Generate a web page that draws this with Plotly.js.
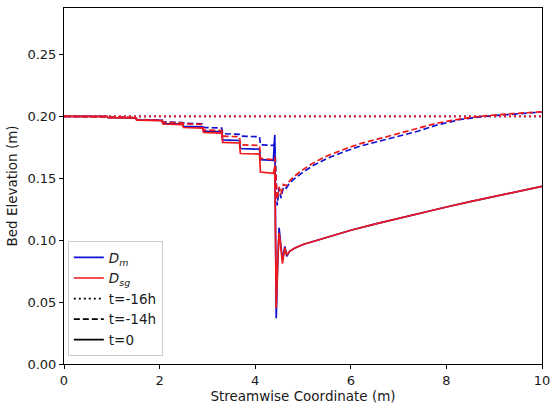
<!DOCTYPE html>
<html>
<head>
<meta charset="utf-8">
<script src="https://cdn.plot.ly/plotly-3.0.1.min.js"></script>
<style>html,body{margin:0;padding:0;background:#fff;}#plot{width:550px;height:410px;}</style>
</head>
<body>
<div id="plot"></div>
<script>
// t = 0 (solid)
const xT0 = [0, 0.9, 0.92, 1.5, 1.52, 2.05, 2.07, 2.48, 2.5, 2.9, 2.92, 3.3, 3.32, 3.67, 3.69, 4.09, 4.11, 4.38, 4.41, 4.44, 4.47, 4.5, 4.53, 4.57, 4.62, 4.66, 4.72, 4.82, 5.0, 5.5, 6.0, 6.5, 7.0, 7.5, 8.0, 8.5, 9.0, 9.5, 10.0];
const dmT0 = [0.200, 0.200, 0.199, 0.1988, 0.1972, 0.1968, 0.1942, 0.1938, 0.192, 0.1915, 0.188, 0.1875, 0.181, 0.1805, 0.174, 0.1735, 0.165, 0.1645, 0.185, 0.037, 0.080, 0.110, 0.098, 0.084, 0.095, 0.087, 0.091, 0.0935, 0.0965, 0.1025, 0.1080, 0.1130, 0.1178, 0.1224, 0.1268, 0.1311, 0.1353, 0.1394, 0.1435];
const dsgT0 = [0.200, 0.200, 0.199, 0.1988, 0.1970, 0.1965, 0.1938, 0.1933, 0.191, 0.1905, 0.187, 0.1865, 0.179, 0.1785, 0.170, 0.1695, 0.155, 0.154, 0.160, 0.045, 0.082, 0.106, 0.097, 0.081, 0.094, 0.088, 0.091, 0.0935, 0.0965, 0.1025, 0.1080, 0.1130, 0.1178, 0.1224, 0.1268, 0.1311, 0.1353, 0.1394, 0.1435];
// t = -14h (dashed)
const xT14 = [0, 0.9, 0.92, 1.5, 1.52, 2.05, 2.07, 2.48, 2.5, 2.9, 2.92, 3.3, 3.32, 3.67, 3.69, 4.09, 4.11, 4.38, 4.41, 4.46, 4.5, 4.54, 4.59, 4.65, 4.72, 4.8, 5.0, 5.2, 5.5, 5.9, 6.2, 6.6, 7.0, 7.4, 7.8, 8.3, 8.8, 9.4, 10.0];
const dmT14 = [0.200, 0.200, 0.1995, 0.199, 0.1975, 0.197, 0.1955, 0.195, 0.1945, 0.194, 0.191, 0.1905, 0.186, 0.1855, 0.184, 0.1835, 0.177, 0.1765, 0.178, 0.128, 0.142, 0.134, 0.143, 0.142, 0.146, 0.149, 0.155, 0.160, 0.166, 0.172, 0.176, 0.180, 0.184, 0.188, 0.193, 0.1975, 0.2, 0.202, 0.2035];
const dsgT14 = [0.200, 0.200, 0.1995, 0.199, 0.1973, 0.1968, 0.1952, 0.1947, 0.194, 0.1935, 0.189, 0.1885, 0.184, 0.1835, 0.177, 0.1765, 0.166, 0.165, 0.167, 0.133, 0.143, 0.137, 0.145, 0.144, 0.148, 0.151, 0.157, 0.162, 0.168, 0.174, 0.178, 0.182, 0.186, 0.190, 0.1945, 0.198, 0.2005, 0.2022, 0.2037];
// t = -16h (dotted)
const xT16 = [0, 10];
const dmT16 = [0.2, 0.2];
const dsgT16 = [0.2, 0.2];

const legendNames = ['<i>D<sub>m</sub></i>', '<i>D<sub>sg</sub></i>', 't=-16h', 't=-14h', 't=0'];

const BLUE = '#1010d0';
const RED = '#f01818';
const LW = 1.7;
const DOT = '2px,3px';
const DASH = '6px,3px';

function line(x, y, color, dash) {
  return {x: x, y: y, type: 'scatter', mode: 'lines', showlegend: false, hoverinfo: 'skip',
          line: {color: color, width: LW, dash: dash}};
}
function leg(name, color, dash) {
  return {x: [null], y: [null], type: 'scatter', mode: 'lines', name: name, showlegend: true,
          line: {color: color, width: LW, dash: dash}};
}

const data = [
  line(xT16, dmT16, BLUE, DOT),
  line(xT14, dmT14, BLUE, DASH),
  line(xT0, dmT0, BLUE, 'solid'),
  line(xT16, dsgT16, RED, DOT),
  line(xT14, dsgT14, RED, DASH),
  line(xT0, dsgT0, RED, 'solid'),
  leg(legendNames[0], BLUE, 'solid'),
  leg(legendNames[1], RED, 'solid'),
  leg(legendNames[2], '#000', DOT),
  leg(legendNames[3], '#000', DASH),
  leg(legendNames[4], '#000', 'solid')
];

const TXT = '#1a1a1a';
const axisCommon = {
  showgrid: false, zeroline: false, showline: true, linecolor: '#000', linewidth: 1,
  mirror: true, ticks: 'outside', ticklen: 4, tickwidth: 1, tickcolor: '#000',
  ticklabeloverflow: 'allow',
  tickfont: {family: 'DejaVu Sans', size: 13, color: TXT}
};

const layout = {
  width: 550, height: 410,
  margin: {l: 64, r: 8, t: 8, b: 46},
  paper_bgcolor: '#fff', plot_bgcolor: '#fff',
  font: {family: 'DejaVu Sans', color: TXT},
  xaxis: Object.assign({}, axisCommon, {
    range: [0, 10], tickvals: [0, 2, 4, 6, 8, 10], ticktext: ['0', '2', '4', '6', '8', '10'],
    title: {text: 'Streamwise Coordinate (m)', font: {family: 'DejaVu Sans', size: 13.5, color: TXT}, standoff: 4}
  }),
  yaxis: Object.assign({}, axisCommon, {
    range: [0, 0.2875], tickvals: [0, 0.05, 0.10, 0.15, 0.20, 0.25], tickformat: '.2f',
    title: {text: 'Bed Elevation (m)', font: {family: 'DejaVu Sans', size: 13.5, color: TXT}, standoff: 6}
  }),
  legend: {
    x: 0.008, y: 0.022, xanchor: 'left', yanchor: 'bottom',
    bgcolor: 'rgba(255,255,255,0.85)', bordercolor: '#cccccc', borderwidth: 1,
    font: {family: 'DejaVu Sans', size: 13.5, color: TXT},
    itemwidth: 30, tracegroupgap: 0
  },
  showlegend: true
};

Plotly.newPlot('plot', data, layout, {displayModeBar: false, staticPlot: true});
</script>
</body>
</html>
